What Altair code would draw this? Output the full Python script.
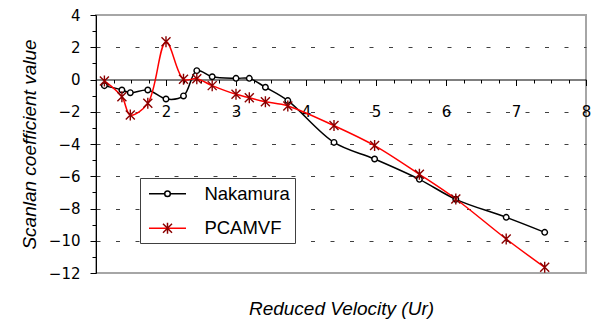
import altair as alt
import pandas as pd

# Reduced velocity (Ur) at which both series were evaluated
velocity = [1.12, 1.37, 1.49, 1.74, 2.00, 2.25, 2.44, 2.66, 3.00, 3.19,
            3.42, 3.74, 4.40, 4.98, 5.62, 6.14, 6.86, 7.41]
# Scanlan coefficient values
nakamura = [-0.38, -0.65, -0.82, -0.65, -1.21, -1.02, 0.55, 0.17, 0.07, 0.07,
            -0.48, -1.31, -3.90, -4.93, -6.19, -7.43, -8.55, -9.48]
pcamvf = [-0.09, -1.07, -2.20, -1.48, 2.34, 0.01, 0.05, -0.38, -0.92, -1.13,
          -1.38, -1.64, -2.86, -4.10, -5.88, -7.41, -9.89, -11.65]

series_names = ["Nakamura", "PCAMVF"]
line_colors = ["black", "#ff0000"]
marker_colors = ["black", "#8b0000"]

x_domain = [1, 8]
y_domain = [-12, 4]
x_major = list(range(1, 9))
x_minor = [1 + 0.25 * i for i in range(29)]
y_major = list(range(-12, 5, 2))
y_minor = list(range(-11, 4, 2))
y_grid = [-10, -8, -6, -4, -2, 2]

df = pd.DataFrame({
    "Ur": velocity * 2,
    "value": nakamura + pcamvf,
    "series": [series_names[0]] * len(velocity) + [series_names[1]] * len(velocity),
})
df["marker"] = df["series"]

circle_path = "M0.28,0A0.28,0.28 0 1,1 -0.28,0A0.28,0.28 0 1,1 0.28,0Z"
star_path = "M-0.45,-0.45L0.45,0.45M-0.45,0.45L0.45,-0.45M0,-0.55L0,0.55"

PLOT_W, PLOT_H = 490, 258
X_AXIS_OFFSET = -193.5  # puts the x axis on the y = 0 line

num_font = "DejaVu Sans"
txt_font = "Liberation Sans"
NUM_SIZE = 15

xs = alt.Scale(domain=x_domain, nice=False, zero=False)
ys = alt.Scale(domain=y_domain, nice=False, zero=False)

legend_common = dict(
    orient="none", legendX=44, legendY=163, title=None,
    padding=4.8, symbolOffset=11.7, labelOffset=25.9, rowPadding=13.4,
    symbolSize=400, symbolStrokeWidth=1.5,
    labelFont=txt_font, labelFontSize=18.5, labelColor="black",
)

lines = alt.Chart(df).mark_line(interpolate="catmull-rom", strokeWidth=1.5).encode(
    x=alt.X("Ur:Q", scale=xs, axis=alt.Axis(
        orient="bottom", offset=X_AXIS_OFFSET, values=x_major,
        labelExpr="datum.value == 1 ? '' : datum.label",
        tickSize=6, tickColor="black", domainColor="black", grid=False,
        labelFont=num_font, labelFontSize=NUM_SIZE, labelColor="black",
        labelPadding=19, labelFlush=False, labelOverlap=False,
        title="Reduced Velocity (Ur)", titleFont=txt_font, titleFontSize=19,
        titleFontStyle="italic", titleFontWeight="normal", titleColor="black",
        titleX=245, titleY=234.5, titleBaseline="alphabetic", titleAlign="center",
    )),
    y=alt.Y("value:Q", scale=ys, axis=alt.Axis(
        orient="left", values=y_major,
        tickSize=6, tickColor="black", domainColor="black", grid=False,
        labelFont=num_font, labelFontSize=NUM_SIZE, labelColor="black",
        labelPadding=10, labelFlush=False, labelOverlap=False,
        title="Scanlan coefficient value", titleFont=txt_font, titleFontSize=19,
        titleFontStyle="italic", titleFontWeight="normal", titleColor="black",
        titleAngle=270, titleX=-61, titleY=129,
        titleBaseline="alphabetic", titleAlign="center",
    )),
    color=alt.Color("series:N", scale=alt.Scale(domain=series_names, range=line_colors),
                    legend=alt.Legend(symbolType="M-1.85,0L1.85,0",
                                      fillColor="white", strokeColor="#404040",
                                      zindex=1, **legend_common)),
)

marker_legend = alt.Legend(labelOpacity=0, zindex=2, **legend_common)

points = alt.Chart(df).mark_point(size=400, strokeWidth=1.4, fill="white", opacity=1).encode(
    x=alt.X("Ur:Q", scale=xs, axis=alt.Axis(
        orient="bottom", offset=X_AXIS_OFFSET, values=x_minor,
        labels=False, domain=False, grid=False, tickSize=3.5,
        tickColor="black", title=None)),
    y=alt.Y("value:Q", scale=ys, axis=alt.Axis(
        orient="left", values=y_minor, labels=False, domain=False, grid=False,
        tickSize=4, tickColor="black", title=None)),
    stroke=alt.Stroke("marker:N", scale=alt.Scale(range=marker_colors), legend=marker_legend),
    shape=alt.Shape("marker:N", scale=alt.Scale(range=[circle_path, star_path]), legend=marker_legend),
)

grid = alt.Chart(df).mark_point(opacity=0).encode(
    x=alt.X("Ur:Q", scale=xs, axis=None),
    y=alt.Y("value:Q", scale=ys, axis=alt.Axis(
        orient="left", values=y_grid, labels=False, ticks=False, domain=False,
        grid=True, gridColor="#404040", gridDash=[4, 15.5], gridWidth=1, title=None)),
)

chart = alt.layer(grid, lines, points).resolve_axis(
    x="independent", y="independent"
).properties(
    width=PLOT_W, height=PLOT_H,
    autosize=alt.AutoSizeParams(type="none"),
    padding={"left": 96, "top": 15, "right": 7, "bottom": 51},
    background="white",
).configure_view(stroke="#a6a6a6", strokeWidth=2)

chart.save("out.html", embed_options={"renderer": "svg", "actions": False})
